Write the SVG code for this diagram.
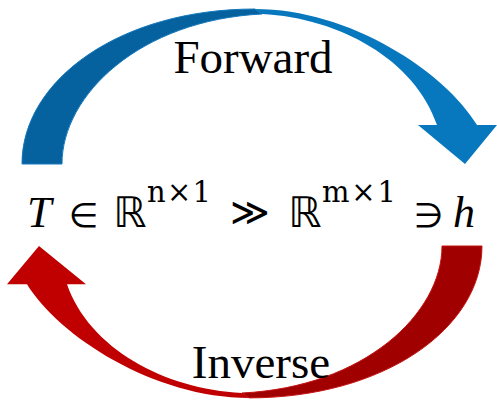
<svg xmlns="http://www.w3.org/2000/svg" width="497" height="401" viewBox="0 0 497 401">
<style>
.lbl{font-family:"Liberation Serif","Times New Roman",serif;font-size:47px;fill:#000;text-anchor:middle}
.m{font-family:"Liberation Serif","Times New Roman",serif;font-size:44px;fill:#000}
.it{font-style:italic}
.sym{font-family:"DejaVu Sans",sans-serif;fill:#000}
.sup{font-family:"DejaVu Serif","Liberation Serif",serif;font-size:29px;fill:#000}
.bd{fill:#05629E;stroke:#1679BD;stroke-width:1}
.bl{fill:#0778BE}
.rd{fill:#A00000;stroke:#C41414;stroke-width:1}
.rl{fill:#C00000}
</style>
<defs>
<g id="carrow-dark">
<path d="M22,164 C22,80 120,9 255,9 L262,14 C140,20 62,95 62,164 Z"/>
</g>
<g id="carrow-light">
<path d="M255,9 C350,9 445,72 477,125 L497,125 L465,164 L418,125 L437,125 C415,60 340,18 262,14 Z"/>
</g>
</defs>
<g id="connectors">
<g id="forward">
<use href="#carrow-dark" class="bd"/>
<use href="#carrow-light" class="bl"/>
<text class="lbl" x="253" y="73">Forward</text>
</g>
<g id="inverse">
<g transform="translate(0,246) scale(1,0.98) translate(0,-246) rotate(180,252,205)">
<use href="#carrow-dark" class="rd"/>
<use href="#carrow-light" class="rl"/>
</g>
<text class="lbl" x="261" y="378">Inverse</text>
</g>
</g>
<g id="formula">
<text class="m it" x="27" y="227">T</text>
<text class="sym" x="83.5" y="227" font-size="34" text-anchor="middle">∈</text>
<text class="sym" x="130" y="227" font-size="42" text-anchor="middle">ℝ</text>
<text class="sup" x="147" y="202" textLength="64" lengthAdjust="spacing">n×1</text>
<text class="sym" x="250" y="225" font-size="38" text-anchor="middle">≫</text>
<text class="sym" x="305" y="227" font-size="42" text-anchor="middle">ℝ</text>
<text class="sup" x="322" y="202" textLength="74" lengthAdjust="spacing">m×1</text>
<text class="sym" x="428.5" y="227" font-size="34" text-anchor="middle">∋</text>
<text class="m it" x="453" y="227">h</text>
</g>
</svg>
